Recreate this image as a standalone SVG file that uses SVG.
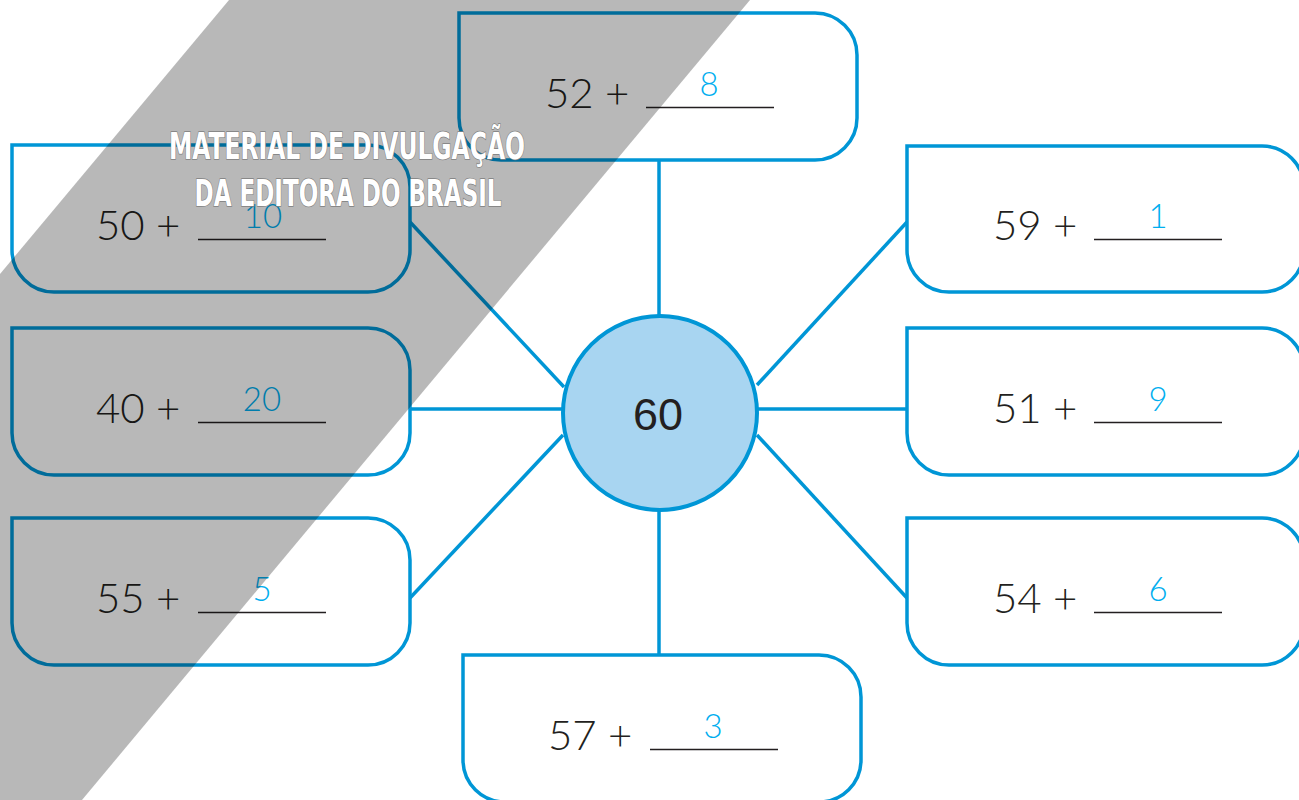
<svg xmlns="http://www.w3.org/2000/svg" width="1299" height="800" viewBox="0 0 1299 800">
<style>
.box{fill:#fff;stroke:#0096d6;stroke-width:3.5}
.con{stroke:#0096d6;stroke-width:3.5;fill:none}
.q{font-family:Lato,"Open Sans",sans-serif;font-weight:300;font-size:42px;fill:#231f20}
.a{font-family:Lato,"Open Sans",sans-serif;font-weight:300;font-size:33px;fill:#00aeef;text-anchor:middle}
.ul{stroke:#231f20;stroke-width:1.6}
.wm{font-family:"DejaVu Sans Condensed","DejaVu Sans",sans-serif;font-weight:bold;font-size:38px;fill:#fff;stroke:#808080;stroke-width:1.4;paint-order:stroke;text-anchor:middle}
</style>
<rect width="1299" height="800" fill="#fff"/>
<g id="connectors">
<line class="con" x1="659" y1="160" x2="659" y2="316"/>
<line class="con" x1="659" y1="511" x2="659" y2="656"/>
<line class="con" x1="410" y1="409" x2="562" y2="409"/>
<line class="con" x1="758" y1="409" x2="907" y2="409"/>
<line class="con" x1="410" y1="222" x2="564" y2="387"/>
<line class="con" x1="907" y1="222" x2="757" y2="385"/>
<line class="con" x1="410" y1="598" x2="563" y2="435"/>
<line class="con" x1="907" y1="598" x2="757" y2="435"/>
</g>
<g id="n52">
<path class="box" d="M459,13 H815 A42 42 0 0 1 857,55 V118 A42 42 0 0 1 815,160 H501 A42 42 0 0 1 459,118 Z"/>
<text class="q" x="545" y="108">52 +</text>
<line class="ul" x1="646" y1="107.5" x2="774" y2="107.5"/>
<text class="a" x="709" y="96">8</text>
</g>
<g id="n50">
<path class="box" d="M12,145 H368 A42 42 0 0 1 410,187 V250 A42 42 0 0 1 368,292 H54 A42 42 0 0 1 12,250 Z"/>
<text class="q" x="96" y="240">50 +</text>
<line class="ul" x1="198" y1="239.5" x2="326" y2="239.5"/>
<text class="a" x="263" y="228">10</text>
</g>
<g id="n40">
<path class="box" d="M12,328 H368 A42 42 0 0 1 410,370 V433 A42 42 0 0 1 368,475 H54 A42 42 0 0 1 12,433 Z"/>
<text class="q" x="96" y="423">40 +</text>
<line class="ul" x1="198" y1="422.5" x2="326" y2="422.5"/>
<text class="a" x="262" y="411">20</text>
</g>
<g id="n55">
<path class="box" d="M12,518 H368 A42 42 0 0 1 410,560 V623 A42 42 0 0 1 368,665 H54 A42 42 0 0 1 12,623 Z"/>
<text class="q" x="96" y="613">55 +</text>
<line class="ul" x1="198" y1="612.5" x2="326" y2="612.5"/>
<text class="a" x="262" y="601">5</text>
</g>
<g id="n59">
<path class="box" d="M907,146 H1262 A42 42 0 0 1 1304,188 V250 A42 42 0 0 1 1262,292 H949 A42 42 0 0 1 907,250 Z"/>
<text class="q" x="993" y="240">59 +</text>
<line class="ul" x1="1094" y1="239.5" x2="1222" y2="239.5"/>
<text class="a" x="1158" y="228">1</text>
</g>
<g id="n51">
<path class="box" d="M907,328 H1262 A42 42 0 0 1 1304,370 V433 A42 42 0 0 1 1262,475 H949 A42 42 0 0 1 907,433 Z"/>
<text class="q" x="993" y="423">51 +</text>
<line class="ul" x1="1094" y1="422.5" x2="1222" y2="422.5"/>
<text class="a" x="1158" y="411">9</text>
</g>
<g id="n54">
<path class="box" d="M907,518 H1262 A42 42 0 0 1 1304,560 V623 A42 42 0 0 1 1262,665 H949 A42 42 0 0 1 907,623 Z"/>
<text class="q" x="993" y="613">54 +</text>
<line class="ul" x1="1094" y1="612.5" x2="1222" y2="612.5"/>
<text class="a" x="1158" y="601">6</text>
</g>
<g id="n57">
<path class="box" d="M463,655 H819 A42 42 0 0 1 861,697 V760 A42 42 0 0 1 819,802 H505 A42 42 0 0 1 463,760 Z"/>
<text class="q" x="548" y="750">57 +</text>
<line class="ul" x1="650" y1="749.5" x2="778" y2="749.5"/>
<text class="a" x="713" y="738">3</text>
</g>
<g id="center">
<circle cx="660" cy="413" r="97" fill="#a8d5f1" stroke="#0096d6" stroke-width="4"/>
<text x="658" y="430" font-family="'Liberation Sans',Arial,sans-serif" font-size="45" fill="#231f20" text-anchor="middle">60</text>
</g>
<g id="watermark">
<polygon points="229,0 750,0 82,800 0,800 0,274" fill="#000" fill-opacity="0.28"/>
<text class="wm" x="347" y="159" textLength="356" lengthAdjust="spacingAndGlyphs">MATERIAL DE DIVULGAÇÃO</text>
<text class="wm" x="348" y="206" textLength="307" lengthAdjust="spacingAndGlyphs">DA EDITORA DO BRASIL</text>
</g>
</svg>
